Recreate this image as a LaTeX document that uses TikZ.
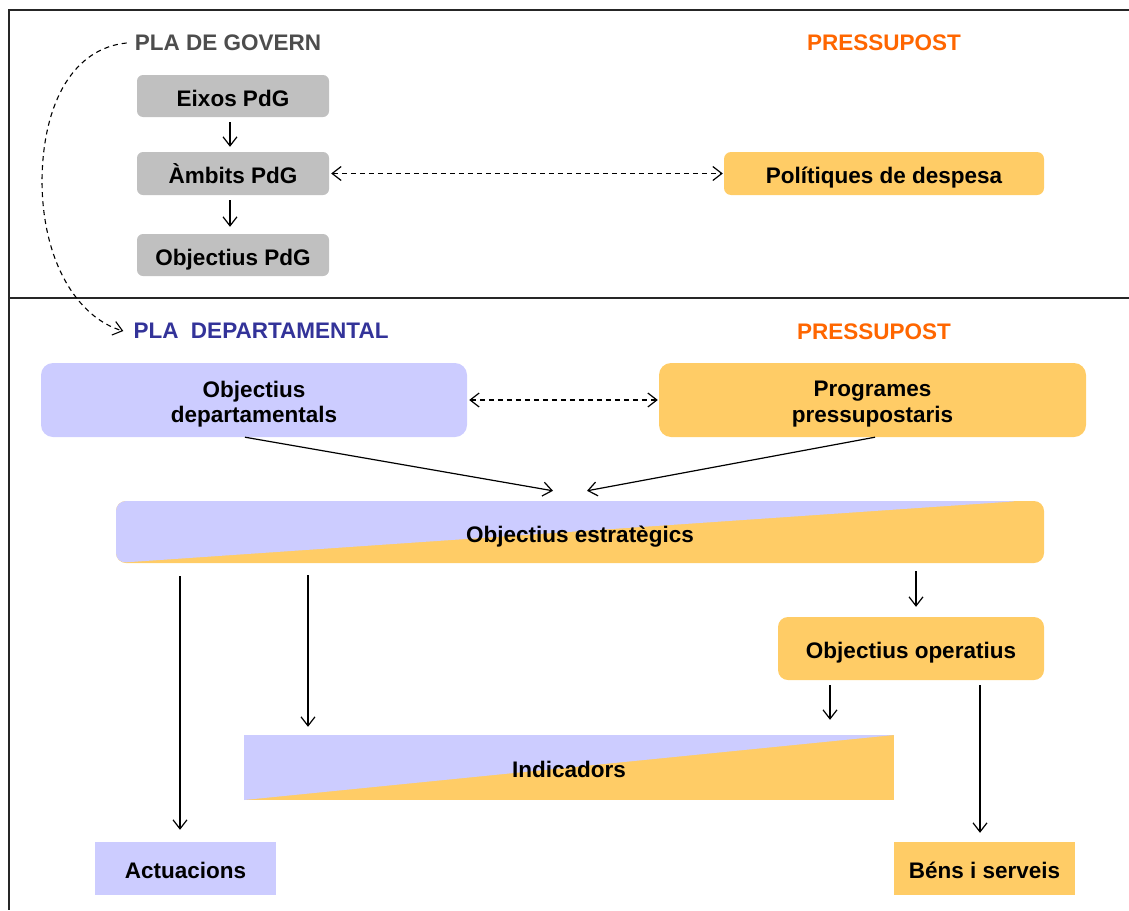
\documentclass[tikz,border=0pt]{standalone}
\usepackage{fontspec}
\setmainfont{Liberation Sans}
\usetikzlibrary{arrows.meta}
\definecolor{boxgray}{HTML}{C0C0C0}
\definecolor{lav}{HTML}{CCCCFF}
\definecolor{gold}{HTML}{FFCC66}
\definecolor{orng}{HTML}{FF6600}
\definecolor{navyblue}{HTML}{333399}
\definecolor{titlegray}{HTML}{4D4D4D}
\begin{document}
\begin{tikzpicture}[x=1pt,y=-1pt,
  font=\fontsize{22.5}{25.5}\selectfont\bfseries,
  box/.style={inner sep=0pt, text height=20pt, text depth=0pt, text=black},
  govbox/.style={box, fill=boxgray, rounded corners=6pt},
  lavbox/.style={box, fill=lav},
  goldbox/.style={box, fill=gold},
  splitbox/.style={box, fill=gold, path picture={
      \fill[lav] (path picture bounding box.north west)
        -- ([xshift=-#1]path picture bounding box.north east)
        -- (path picture bounding box.south west) -- cycle;}},
  twoline/.style={inner sep=0pt, align=center, text=black},
  heading/.style={inner sep=0pt, font=\fontsize{22.5}{25.5}\selectfont\bfseries},
  arr/.style={line width=1.2pt, -{Straight Barb[length=9pt,width=14pt,line width=1.2pt]}},
  darr/.style={line width=1.2pt, dash pattern=on 5pt off 4pt,
      {Straight Barb[length=9pt,width=14pt,line width=1.2pt]}-{Straight Barb[length=9pt,width=14pt,line width=1.2pt]}},
  curvearr/.style={line width=1.1pt, dash pattern=on 5pt off 4pt,
      -{Straight Barb[length=9pt,width=14pt,line width=1.1pt]}},
]
\useasboundingbox (0,0) rectangle (1129,910);

% outer frame and divider between the two levels
\draw[line width=1.8pt, black!85] (1129,10) -- (9,10) -- (9,910);
\draw[line width=1.6pt, black!85] (9,298) -- (1129,298);

% ---- Pla de Govern level
\node[heading, text=titlegray] (plagov) at (228,43) {PLA DE GOVERN};
\node[heading, text=orng] (press1) at (884,43) {PRESSUPOST};

\node[govbox, minimum width=192pt, minimum height=42pt] (eix)  at (233,96)    {Eixos PdG};
\node[govbox, minimum width=192pt, minimum height=43pt] (amb)  at (233,173.5) {Àmbits PdG};
\node[govbox, minimum width=192pt, minimum height=42pt] (objp) at (233,255)   {Objectius PdG};
\node[goldbox, rounded corners=7pt, minimum width=320pt, minimum height=43pt] (pol) at (884,173.5) {Polítiques de despesa};

\draw[arr] (eix.south -| 230,0) ++(0,5) -- ([yshift=5pt]amb.north -| 230,0);
\draw[arr] (amb.south -| 230,0) ++(0,5) -- ([yshift=7pt]objp.north -| 230,0);
\draw[darr] ([xshift=2pt]amb.east) -- ([xshift=-1pt]pol.west);

% ---- Pla departamental level
\node[heading, text=navyblue] (pladep) at (261,331) {PLA\ \ DEPARTAMENTAL};
\node[heading, text=orng] (press2) at (874,332) {PRESSUPOST};

\draw[curvearr] ([xshift=-8pt]plagov.west) .. controls (75,48) and (43,100) .. (42,180)
  .. controls (42,262) and (78,318) .. ([xshift=-10pt]pladep.west);

\node[lavbox, rounded corners=12pt, minimum width=426pt, minimum height=74pt] (objdep) at (254,400) {};
\node[twoline] (objdeptxt) at ([yshift=-4pt]objdep.center) {Objectius\\departamentals};
\node[goldbox, rounded corners=12pt, minimum width=427pt, minimum height=74pt] (prog) at (872.5,400) {};
\node[twoline] (progtxt) at ([yshift=-4pt]prog.center) {Programes\\pressupostaris};
\draw[darr] ([xshift=2pt]objdep.east) -- ([xshift=-1pt]prog.west);

\node[splitbox=24pt, rounded corners=10pt, minimum width=928pt, minimum height=62pt] (estr) at (580,532)
  {Objectius estratègics};

\draw[arr] ([xshift=-9pt]objdep.south) -- ([xshift=-27pt,yshift=10pt]estr.north);
\draw[arr] ([xshift=2.5pt]prog.south) -- ([xshift=7pt,yshift=10pt]estr.north);

\node[goldbox, rounded corners=10pt, minimum width=266pt, minimum height=63pt] (op) at (911,648.5)
  {Objectius operatius};
\node[splitbox=0pt, minimum width=650pt, minimum height=65pt] (ind) at (569,767.5) {Indicadors};
\node[lavbox, minimum width=181pt, minimum height=53pt] (act) at (185.5,868.5) {Actuacions};
\node[goldbox, minimum width=181pt, minimum height=53pt] (bens) at (984.5,868.5) {Béns i serveis};

\draw[arr] (estr.south -| 180,0) ++(0,13) -- ([yshift=12pt]act.north -| 180,0);
\draw[arr] (estr.south -| 308,0) ++(0,12) -- ([yshift=8pt]ind.north -| 308,0);
\draw[arr] (estr.south -| 916,0) ++(0,8) -- ([yshift=10pt]op.north -| 916,0);
\draw[arr] (op.south -| 830,0) ++(0,5) -- ([yshift=15pt]ind.north -| 830,0);
\draw[arr] (op.south -| 980,0) ++(0,5) -- ([yshift=9pt]bens.north -| 980,0);
\end{tikzpicture}
\end{document}
